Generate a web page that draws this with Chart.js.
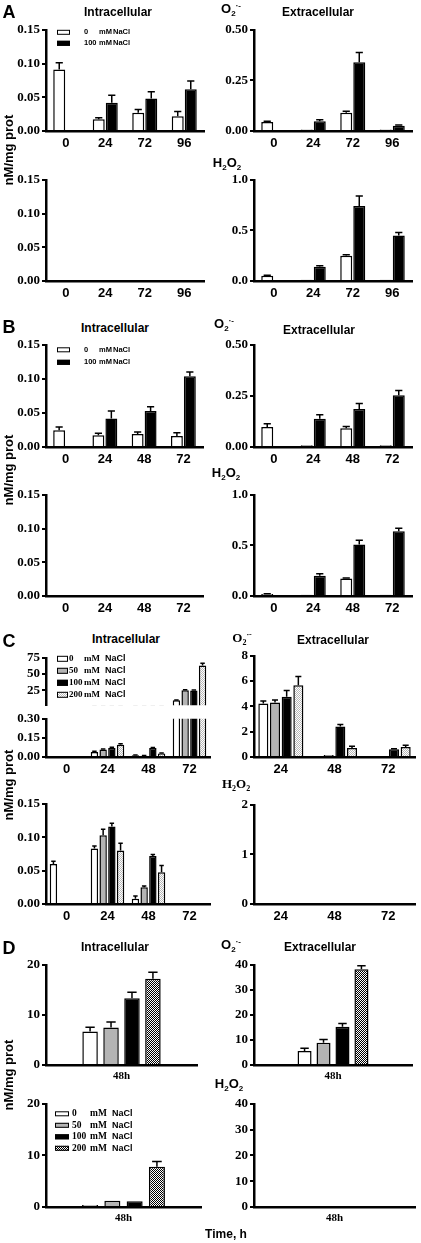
<!DOCTYPE html>
<html>
<head>
<meta charset="utf-8">
<script src="https://cdn.jsdelivr.net/npm/chart.js@4.4.0/dist/chart.umd.min.js"></script>
<style>
body { margin: 0; background: #fff; }
#fig { position: relative; width: 421px; height: 1243px; overflow: hidden; font-family: "Liberation Sans", Arial, sans-serif; color: #000; }
#fig canvas { position: absolute; }
.t { position: absolute; transform: translate(-50%, -50%); white-space: nowrap; font-weight: bold; line-height: 1; }
.letter { font-size: 18px; }
.title { font-size: 12px; }
.ylab { font-size: 13px; transform: translate(-50%, -50%) rotate(-90deg); }
.chem { font-size: 13px; }
.chem sub, .chem sup { font-size: 8px; }
.serif { font-family: "Liberation Serif", "Times New Roman", serif; }
</style>
</head>
<body>
<div id="fig"></div>
<script>
// ---- data (nM/mg prot) ----
const catsA = ["0", "24", "72", "96"];
const catsB = ["0", "24", "48", "72"];
const catsC = ["0", "24", "48", "72"];
const catsCExtra = ["24", "48", "72"];
const catsD = ["48h"];

const labels2 = ["0 mM NaCl", "100 mM NaCl"];
const labels4 = ["0 mM NaCl", "50 mM NaCl", "100 mM NaCl", "200 mM NaCl"];

// A
const aIntra0 = [0.091, 0.0175, 0.027, 0.022];
const aIntra0Err = [0.01, 0.002, 0.005, 0.007];
const aIntra100 = [null, 0.042, 0.048, 0.062];
const aIntra100Err = [0, 0.011, 0.01, 0.012];
const aExtra0 = [0.045, 0.008, 0.09, 0.008];
const aExtra0Err = [0.003, 0, 0.008, 0];
const aExtra100 = [null, 0.048, 0.34, 0.026];
const aExtra100Err = [0, 0.007, 0.048, 0.004];
const aPerox0 = [0.052, 0.012, 0.25, 0.012];
const aPerox0Err = [0.005, 0, 0.01, 0];
const aPerox100 = [null, 0.14, 0.74, 0.45];
const aPerox100Err = [0, 0.01, 0.1, 0.03];

// B
const bIntra0 = [0.0245, 0.0173, 0.019, 0.016];
const bIntra0Err = [0.005, 0.003, 0.003, 0.005];
const bIntra100 = [null, 0.042, 0.053, 0.104];
const bIntra100Err = [0, 0.011, 0.006, 0.006];
const bExtra0 = [0.098, 0.008, 0.092, 0.008];
const bExtra0Err = [0.016, 0, 0.008, 0];
const bExtra100 = [null, 0.138, 0.186, 0.253];
const bExtra100Err = [0, 0.02, 0.027, 0.024];
const bPerox0 = [0.02, 0.012, 0.172, 0.012];
const bPerox0Err = [0.003, 0, 0.006, 0];
const bPerox100 = [null, 0.2, 0.51, 0.64];
const bPerox100Err = [0, 0.02, 0.04, 0.03];

// C
const cIntra0 = [null, 0.04, 0.013, 9.7];
const cIntra0Err = [0, 0.005, 0.002, 0.5];
const cIntra50 = [null, 0.058, 0.01, 25];
const cIntra50Err = [0, 0.004, 0.002, 0.8];
const cIntra100 = [null, 0.07, 0.07, 24.5];
const cIntra100Err = [0, 0.006, 0.005, 0.8];
const cIntra200 = [null, 0.097, 0.028, 63];
const cIntra200Err = [0, 0.007, 0.004, 3.5];
const cExtra0 = [4.22, 0.06, 0.06];
const cExtra0Err = [0.2, 0, 0];
const cExtra50 = [4.3, 0.15, 0.06];
const cExtra50Err = [0.2, 0, 0];
const cExtra100 = [4.76, 2.41, 0.62];
const cExtra100Err = [0.5, 0.15, 0.03];
const cExtra200 = [5.67, 0.72, 0.8];
const cExtra200Err = [0.7, 0.12, 0.12];
const cPerox0 = [0.06, 0.083, 0.008, null];
const cPerox0Err = [0.004, 0.004, 0.004, 0];
const cPerox50 = [null, 0.103, 0.025, null];
const cPerox50Err = [0, 0.009, 0.002, 0];
const cPerox100 = [null, 0.116, 0.072, null];
const cPerox100Err = [0, 0.005, 0.002, 0];
const cPerox200 = [null, 0.08, 0.0475, null];
const cPerox200Err = [0, 0.011, 0.01, 0];

// D
const dIntra = [6.67, 7.5, 13.3, 17.2];
const dIntraErr = [0.85, 1.1, 1.2, 1.3];
const dExtra = [5.6, 8.9, 15.3, 38.2];
const dExtraErr = [1.1, 1.3, 1.3, 1.4];
const dPerox = [0.4, 1.2, 1.1, 7.8];
const dPeroxErr = [0, 0, 0, 1.0];

// tick labels
const ticksA1 = ["0.00", "0.05", "0.10", "0.15"];
const ticksA2 = ["0.00", "0.25", "0.50"];
const ticksA3 = ["0.0", "0.5", "1.0"];
const ticksCUp = ["25", "50", "75"];
const ticksCLow = ["0.00", "0.15", "0.30"];
const ticksCEx = ["0", "2", "4", "6", "8"];
const ticksCPerox = ["0.00", "0.05", "0.10", "0.15"];
const ticksCPeroxEx = ["0", "1", "2"];
const ticksD1 = ["0", "10", "20"];
const ticksD2 = ["0", "10", "20", "30", "40"];

// ---- fills ----
function checker(a, b) {
    const c = document.createElement("canvas");
    c.width = c.height = 2;
    const g = c.getContext("2d");
    g.fillStyle = a; g.fillRect(0, 0, 2, 2);
    g.fillStyle = b; g.fillRect(0, 0, 1, 1); g.fillRect(1, 1, 1, 1);
    return g.createPattern(c, "repeat");
}
const WHITE = "#fff", GREY = "#b4b4b4", BLACK = "#000";
const SPECKLE = checker("#fff", "#b8b8b8");
const CHECK = checker("#fff", "#000");

// ---- plugins ----
const errorBars = {
    id: "errorBars",
    afterDatasetsDraw(chart) {
        const { ctx, chartArea: a } = chart;
        const y = chart.scales.y;
        ctx.save();
        ctx.beginPath();
        ctx.rect(a.left, a.top - 3, a.right - a.left, a.bottom - a.top + 3);
        ctx.clip();
        ctx.strokeStyle = "#000";
        ctx.lineWidth = 1.5;
        chart.data.datasets.forEach((ds, di) => {
            if (!ds.errors) return;
            chart.getDatasetMeta(di).data.forEach((bar, i) => {
                const v = ds.data[i], e = ds.errors[i];
                if (v == null || !e) return;
                const yTop = y.getPixelForValue(v + e);
                const hw = bar.width * 0.3;
                ctx.beginPath();
                ctx.moveTo(bar.x, bar.y);
                ctx.lineTo(bar.x, yTop);
                ctx.moveTo(bar.x - hw, yTop);
                ctx.lineTo(bar.x + hw, yTop);
                ctx.stroke();
            });
        });
        ctx.restore();
    }
};

const boxLegend = {
    id: "boxLegend",
    afterDraw(chart, args, o) {
        if (!o || o.x === undefined) return;
        const { ctx, chartArea: a } = chart;
        ctx.save();
        ctx.textBaseline = "middle";
        chart.data.datasets.forEach((ds, i) => {
            const x = a.left + o.x;
            const y = a.top + o.y + i * o.dy;
            ctx.fillStyle = ds.backgroundColor;
            ctx.fillRect(x, y - o.bh / 2, o.bw, o.bh);
            ctx.strokeStyle = "#000";
            ctx.lineWidth = 1;
            ctx.strokeRect(x + 0.5, y - o.bh / 2 + 0.5, o.bw - 1, o.bh - 1);
            const [num, unit, salt] = ds.label.split(" ");
            ctx.fillStyle = "#000";
            ctx.font = o.font;
            ctx.fillText(num, x + o.numX, y);
            ctx.fillText(unit, x + o.unitX, y);
            ctx.font = o.saltFont || o.font;
            ctx.fillText(salt, x + o.saltX, y);
        });
        ctx.restore();
    }
};

Chart.register(errorBars, boxLegend);

// ---- layout ----
const fig = document.getElementById("fig");
const PT = 8, PR = 4, YW = 44, XH = 22;

function subplot(o) {
    const xh = o.hideX ? 8 : XH;
    const left = o.axisX - YW, top = o.top - PT;
    const w = o.right - left + PR;
    const h = o.bottom - top + xh;
    const cv = document.createElement("canvas");
    cv.width = w; cv.height = h;
    cv.style.left = left + "px"; cv.style.top = top + "px";
    cv.style.width = w + "px"; cv.style.height = h + "px";
    fig.appendChild(cv);

    const tickVals = o.ticks.map(Number);
    new Chart(cv, {
        type: "bar",
        data: {
            labels: o.cats,
            datasets: o.series.map(s => ({
                label: s.label,
                data: s.data,
                errors: s.err,
                backgroundColor: s.fill,
                borderColor: "#000",
                borderWidth: 1.5,
                borderSkipped: "start",
                clip: 0,
                barPercentage: o.barPct,
                categoryPercentage: o.catPct
            }))
        },
        options: {
            responsive: false,
            animation: false,
            devicePixelRatio: 1,
            layout: { padding: { top: PT, right: PR, left: 0, bottom: 0 } },
            plugins: {
                legend: { display: false },
                tooltip: { enabled: false },
                boxLegend: o.legend || false
            },
            scales: {
                x: {
                    grid: { display: false, drawTicks: false },
                    border: { display: !o.hideX, color: "#000", width: 2.5 },
                    ticks: {
                        display: !o.hideX,
                        color: "#000",
                        font: o.xFont || { family: "Liberation Sans", weight: "bold", size: 13 },
                        padding: 5, maxRotation: 0, autoSkip: false
                    },
                    afterFit: s => { s.height = xh; }
                },
                y: {
                    min: o.min !== undefined ? o.min : tickVals[0],
                    max: tickVals[tickVals.length - 1],
                    grid: { display: true, drawOnChartArea: false, drawTicks: true, tickLength: 4, color: "#000", lineWidth: 2 },
                    border: { display: true, color: "#000", width: 2.5 },
                    ticks: {
                        color: "#000",
                        font: { family: "Liberation Serif", weight: "bold", size: 13 },
                        padding: 2,
                        autoSkip: false,
                        callback: (v, i) => o.ticks[i]
                    },
                    afterBuildTicks: s => { s.ticks = tickVals.map(v => ({ value: v })); },
                    afterFit: s => { s.width = YW; }
                }
            }
        }
    });
}

function two(d0, e0, d1, e1) {
    return [
        { label: labels2[0], data: d0, err: e0, fill: WHITE },
        { label: labels2[1], data: d1, err: e1, fill: BLACK }
    ];
}
function four(data, errs, pat) {
    const fills = [WHITE, GREY, BLACK, pat];
    return labels4.map((l, i) => ({ label: l, data: data[i], err: errs[i], fill: fills[i] }));
}

const legendAB = { x: 11, y: 2.5, dy: 11, bw: 13, bh: 5, numX: 27, unitX: 42, saltX: 56, font: "bold 7.5px 'Liberation Sans'" };
const legendC = { x: 11, y: 1, dy: 12, bw: 11, bh: 6, numX: 12, unitX: 27, saltX: 48,
    font: "bold 9px 'Liberation Serif'", saltFont: "bold 9px 'Liberation Sans'" };
const legendD = { x: 9, y: 10, dy: 11.5, bw: 14, bh: 5, numX: 17, unitX: 35, saltX: 57,
    font: "bold 9.5px 'Liberation Serif'", saltFont: "bold 9px 'Liberation Sans'" };

const ab = { barPct: 0.92, catPct: 0.66 };

// A
subplot({ ...ab, axisX: 46, top: 28, bottom: 131, right: 204, cats: catsA, ticks: ticksA1,
    series: two(aIntra0, aIntra0Err, aIntra100, aIntra100Err), legend: legendAB });
subplot({ ...ab, axisX: 254, top: 28, bottom: 131, right: 412, cats: catsA, ticks: ticksA2,
    series: two(aExtra0, aExtra0Err, aExtra100, aExtra100Err) });
subplot({ ...ab, axisX: 46, top: 178, bottom: 281, right: 204, cats: catsA, ticks: ticksA1,
    series: two([], [], [], []) });
subplot({ ...ab, axisX: 254, top: 178, bottom: 281, right: 412, cats: catsA, ticks: ticksA3,
    series: two(aPerox0, aPerox0Err, aPerox100, aPerox100Err) });

// B
subplot({ ...ab, axisX: 46, top: 343, bottom: 447, right: 203, cats: catsB, ticks: ticksA1,
    series: two(bIntra0, bIntra0Err, bIntra100, bIntra100Err), legend: { ...legendAB, y: 5, dy: 12.5 } });
subplot({ ...ab, axisX: 254, top: 343, bottom: 447, right: 412, cats: catsB, ticks: ticksA2,
    series: two(bExtra0, bExtra0Err, bExtra100, bExtra100Err) });
subplot({ ...ab, axisX: 46, top: 493, bottom: 596, right: 203, cats: catsB, ticks: ticksA1,
    series: two([], [], [], []) });
subplot({ ...ab, axisX: 254, top: 493, bottom: 596, right: 412, cats: catsB, ticks: ticksA3,
    series: two(bPerox0, bPerox0Err, bPerox100, bPerox100Err) });

// C (broken intracellular axis)
const cIntra = [cIntra0, cIntra50, cIntra100, cIntra200];
const cIntraErr = [cIntra0Err, cIntra50Err, cIntra100Err, cIntra200Err];
subplot({ barPct: 0.85, catPct: 0.85, axisX: 46, top: 656, bottom: 707, right: 210, min: 2, hideX: true,
    cats: catsC, ticks: ticksCUp, series: four(cIntra, cIntraErr, SPECKLE), legend: legendC });
subplot({ barPct: 0.85, catPct: 0.85, axisX: 46, top: 717, bottom: 757, right: 210,
    cats: catsC, ticks: ticksCLow, series: four(cIntra, cIntraErr, SPECKLE) });
subplot({ barPct: 0.86, catPct: 0.87, axisX: 254, top: 654, bottom: 757, right: 415,
    cats: catsCExtra, ticks: ticksCEx,
    series: four([cExtra0, cExtra50, cExtra100, cExtra200], [cExtra0Err, cExtra50Err, cExtra100Err, cExtra200Err], SPECKLE) });
subplot({ barPct: 0.85, catPct: 0.85, axisX: 46, top: 802, bottom: 904, right: 210,
    cats: catsC, ticks: ticksCPerox,
    series: four([cPerox0, cPerox50, cPerox100, cPerox200], [cPerox0Err, cPerox50Err, cPerox100Err, cPerox200Err], SPECKLE) });
subplot({ barPct: 0.86, catPct: 0.87, axisX: 254, top: 803, bottom: 904, right: 415,
    cats: catsCExtra, ticks: ticksCPeroxEx, series: four([[], [], [], []], [[], [], [], []], SPECKLE) });

// D
const serifX = { family: "Liberation Serif", weight: "bold", size: 11 };
const split = (arr) => arr.map(v => [v]);
subplot({ barPct: 0.74, catPct: 0.555, axisX: 46, top: 963, bottom: 1065, right: 197, cats: catsD, ticks: ticksD1,
    xFont: serifX, series: four(split(dIntra), split(dIntraErr), CHECK) });
subplot({ barPct: 0.74, catPct: 0.48, axisX: 254, top: 963, bottom: 1065, right: 412, cats: catsD, ticks: ticksD2,
    xFont: serifX, series: four(split(dExtra), split(dExtraErr), CHECK) });
subplot({ barPct: 0.72, catPct: 0.575, axisX: 46, top: 1102, bottom: 1207, right: 201, cats: catsD, ticks: ticksD1,
    xFont: serifX, series: four(split(dPerox), split(dPeroxErr), CHECK), legend: legendD });
subplot({ barPct: 0.72, catPct: 0.575, axisX: 254, top: 1102, bottom: 1207, right: 415, cats: catsD, ticks: ticksD2,
    xFont: serifX, series: four([[], [], [], []], [[], [], [], []], CHECK) });

// ---- text ----
const O2 = 'O<sub>2</sub><sup>·-</sup>';
const H2O2 = 'H<sub>2</sub>O<sub>2</sub>';
const texts = [
    ["letter", "A", 9, 12], ["title", "Intracellular", 118, 12], ["chem", O2, 231, 10], ["title", "Extracellular", 318, 12],
    ["chem", H2O2, 227, 164], ["ylab", "nM/mg prot", 8, 150],
    ["letter", "B", 9, 327], ["title", "Intracellular", 115, 328], ["chem", O2, 224, 325], ["title", "Extracellular", 319, 330],
    ["chem", H2O2, 226, 474], ["ylab", "nM/mg prot", 8, 470],
    ["letter", "C", 9, 641], ["title", "Intracellular", 126, 639], ["chem serif", O2, 242, 639], ["title", "Extracellular", 333, 640],
    ["chem serif", H2O2, 236, 785], ["ylab", "nM/mg prot", 8, 785],
    ["letter", "D", 9, 948], ["title", "Intracellular", 115, 947], ["chem", O2, 231, 946], ["title", "Extracellular", 320, 947],
    ["chem", H2O2, 229, 1085], ["ylab", "nM/mg prot", 8, 1075],
    ["title", "Time, h", 226, 1234]
];
texts.forEach(([cls, html, x, y]) => {
    const d = document.createElement("div");
    d.className = "t " + cls;
    d.innerHTML = html;
    d.style.left = x + "px";
    d.style.top = y + "px";
    fig.appendChild(d);
});
</script>
</body>
</html>
